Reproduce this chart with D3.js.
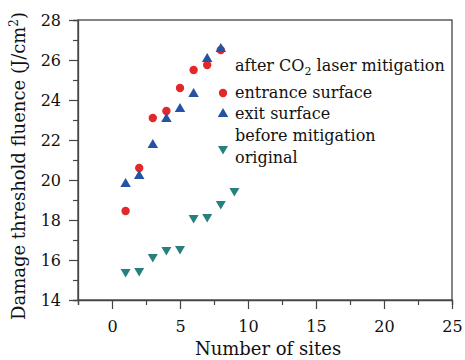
<!DOCTYPE html>
<html>
<head>
<meta charset="utf-8">
<script src="https://cdn.jsdelivr.net/npm/d3@7"></script>
<style>
  body { margin: 0; background: #fff; }
  svg text { font-family: "DejaVu Serif", serif; fill: #111; }
</style>
</head>
<body>
<div id="chart"></div>
<script>
// values
var sites = [1, 2, 3, 4, 5, 6, 7, 8];
var entrance = [18.45, 20.6, 23.1, 23.45, 24.6, 25.5, 25.75, 26.5];
var exitSurf = [19.8, 20.2, 21.75, 23.05, 23.55, 24.3, 26.05, 26.55];
var beforeSites = [1, 2, 3, 4, 5, 6, 7, 8, 9];
var before = [15.35, 15.4, 16.1, 16.45, 16.5, 18.05, 18.1, 18.75, 19.4];
var xTicks = [0, 5, 10, 15, 20, 25];
var yTicks = [14, 16, 18, 20, 22, 24, 26, 28];

var width = 465, height = 360;
var margin = {left: 78, right: 13, top: 20, bottom: 60};

var svg = d3.select("#chart").append("svg")
    .attr("width", width)
    .attr("height", height);

var x = d3.scaleLinear().domain([-2.5, 25]).range([margin.left, width - margin.right]);
var y = d3.scaleLinear().domain([14, 28]).range([height - margin.bottom, margin.top]);

// frame
svg.append("rect")
    .attr("x", x(-2.5)).attr("y", y(28))
    .attr("width", x(25) - x(-2.5)).attr("height", y(14) - y(28))
    .attr("fill", "none").attr("stroke", "#444").attr("stroke-width", 1.3);

// axes, major + minor ticks
var xAxis = svg.append("g").attr("transform", "translate(0," + y(14) + ")");
xAxis.call(d3.axisBottom(x).tickValues(d3.range(-2.5, 25.1, 2.5)).tickSize(5).tickFormat(""));
xAxis.call(function(g){
    g.selectAll(".tick line").attr("y2", function(d){ return d % 5 === 0 ? 9 : 5; });
});
xAxis.selectAll(".tick").filter(function(d){ return xTicks.indexOf(d) >= 0; })
    .append("text").attr("y", 32).attr("text-anchor", "middle")
    .style("font-size", "16px").text(function(d){ return d; });

var yAxis = svg.append("g").attr("transform", "translate(" + x(-2.5) + ",0)");
yAxis.call(d3.axisLeft(y).tickValues(d3.range(14, 28.1, 1)).tickSize(5).tickFormat(""));
yAxis.call(function(g){
    g.selectAll(".tick line").attr("x2", function(d){ return d % 2 === 0 ? -9 : -5; });
});
yAxis.selectAll(".tick").filter(function(d){ return yTicks.indexOf(d) >= 0; })
    .append("text").attr("x", -17).attr("dy", "0.36em").attr("text-anchor", "end")
    .style("font-size", "16px").text(function(d){ return d; });

svg.selectAll(".domain").attr("stroke", "#444").attr("stroke-width", 1.3);
svg.selectAll(".tick line").attr("stroke", "#444").attr("stroke-width", 1.2);

// axis titles
svg.append("text")
    .attr("x", (x(-2.5) + x(25)) / 2 + 3).attr("y", 355)
    .attr("text-anchor", "middle").style("font-size", "18px")
    .text("Number of sites");

var yt = svg.append("text")
    .attr("transform", "translate(25,166) rotate(-90)")
    .attr("text-anchor", "middle").style("font-size", "18px");
yt.append("tspan").text("Damage threshold fluence (J/cm");
yt.append("tspan").attr("dy", -7).style("font-size", "12px").text("2");
yt.append("tspan").attr("dy", 7).text(")");

var red = "#e3282b", blue = "#2453a3", teal = "#26807e";
var up = d3.symbol().type(d3.symbolTriangle).size(48);
var down = "M-5,-4L5,-4L0,4.5Z";

// data marks
svg.append("g").selectAll("path")
    .data(before.map(function(v, i){ return [beforeSites[i], v]; }))
    .enter().append("path")
    .attr("d", down)
    .attr("transform", function(d){ return "translate(" + x(d[0]) + "," + y(d[1]) + ")"; })
    .attr("fill", teal);

svg.append("g").selectAll("circle")
    .data(entrance.map(function(v, i){ return [sites[i], v]; }))
    .enter().append("circle")
    .attr("cx", function(d){ return x(d[0]); })
    .attr("cy", function(d){ return y(d[1]); })
    .attr("r", 4.2)
    .attr("fill", red);

svg.append("g").selectAll("path")
    .data(exitSurf.map(function(v, i){ return [sites[i], v]; }))
    .enter().append("path")
    .attr("d", up)
    .attr("transform", function(d){ return "translate(" + x(d[0]) + "," + y(d[1]) + ")"; })
    .attr("fill", blue);

// legend
var lg = svg.append("g").style("font-size", "16px");
var t0 = lg.append("text").attr("x", 235).attr("y", 71);
t0.append("tspan").text("after CO");
t0.append("tspan").attr("dy", 4).style("font-size", "11px").text("2");
t0.append("tspan").attr("dy", -4).text(" laser mitigation");

lg.append("circle").attr("cx", 223).attr("cy", 93).attr("r", 4.2).attr("fill", red);
lg.append("text").attr("x", 235).attr("y", 98).text("entrance surface");
lg.append("path").attr("d", up).attr("transform", "translate(223,114)").attr("fill", blue);
lg.append("text").attr("x", 235).attr("y", 119).text("exit surface");
lg.append("path").attr("d", down).attr("transform", "translate(223,150)").attr("fill", teal);
lg.append("text").attr("x", 235).attr("y", 141).text("before mitigation");
lg.append("text").attr("x", 235).attr("y", 163).text("original");
</script>
</body>
</html>
